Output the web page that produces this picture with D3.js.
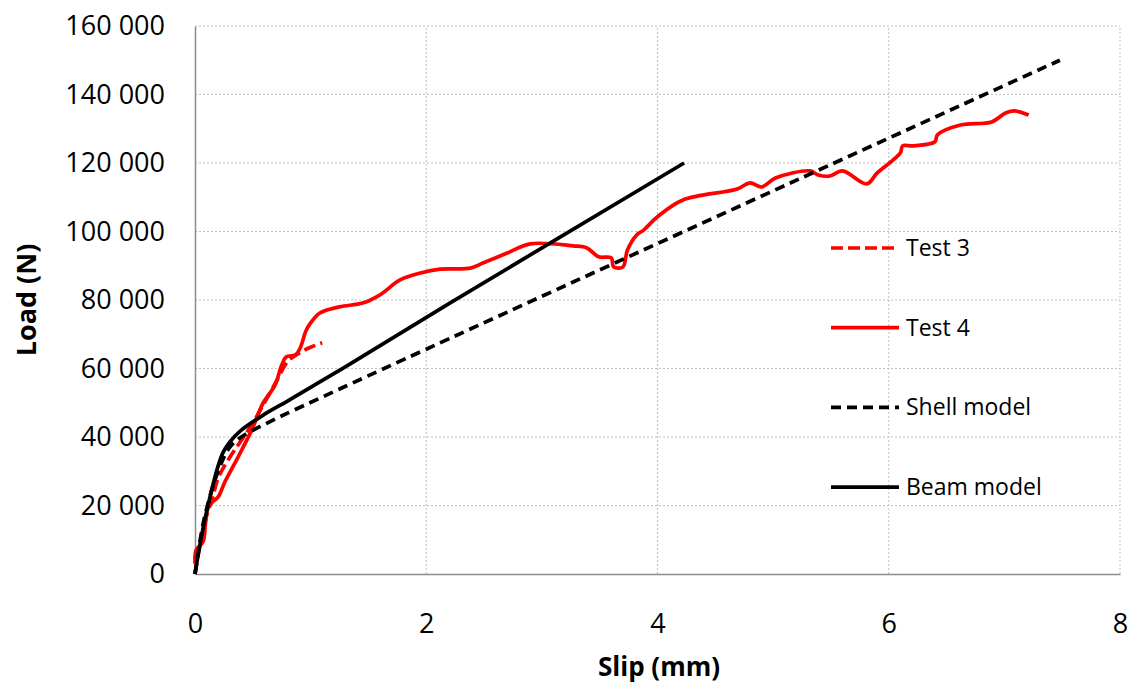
<!DOCTYPE html>
<html>
<head>
<meta charset="utf-8">
<title>Load vs slip</title>
<script src="https://d3js.org/d3.v7.min.js"></script>
<style>
  body { margin: 0; background: #fff; }
  text { font-family: "Open Sans", "Liberation Sans", sans-serif; fill: #000; }
</style>
</head>
<body>
<div id="chart"></div>
<script>
// values: slip (mm), load (N)
var test3 = [[0,0],[0.03,6000],[0.07,12000],[0.1,17000],[0.15,22000],[0.2,28000],[0.3,34000],
  [0.4,39000],[0.5,44000],[0.6,50000],[0.7,56000],[0.8,62000],[0.9,64500],[1.0,66200],[1.1,67500]];

var test4 = [[0,3000],[0.01,7000],[0.07,9500],[0.09,14500],[0.11,19000],[0.15,21000],[0.2,22500],
  [0.26,27000],[0.37,34000],[0.49,42000],[0.59,50000],[0.69,55000],[0.75,61000],[0.79,63400],
  [0.87,64000],[0.91,66000],[0.96,71000],[1.0,73300],[1.08,76200],[1.25,78000],[1.45,79100],
  [1.6,81500],[1.77,85800],[1.95,87900],[2.12,89000],[2.38,89300],[2.49,90800],[2.7,93700],
  [2.9,96400],[3.27,95800],[3.39,95200],[3.49,92600],[3.6,92300],[3.62,89700],[3.7,89600],
  [3.74,94600],[3.82,99000],[3.88,100400],[4.0,104300],[4.22,109200],[4.69,112400],[4.8,114200],
  [4.9,113000],[5.02,115600],[5.32,117700],[5.39,116500],[5.49,116200],[5.6,117700],[5.81,113900],
  [5.9,117100],[6.1,122900],[6.12,125000],[6.21,125000],[6.4,126200],[6.42,128200],[6.62,131100],
  [6.89,132000],[7.01,134600],[7.09,135200],[7.21,134000]];

var shell = [[0,0],[0.05,11000],[0.1,19000],[0.2,30000],[0.3,37000],[0.4,40000],[0.62,44000],
  [1.25,54000],[7.48,150000]];

var beam = [[0,0],[0.05,10000],[0.11,19600],[0.19,30400],[0.24,35300],[0.3,38500],[0.4,42000],
  [0.59,46400],[0.8,50500],[1.0,54500],[1.3,60500],[2.2,79000],[4.23,120000]];

var xTicks = [0, 2, 4, 6, 8];
var yTicks = [0, 20000, 40000, 60000, 80000, 100000, 120000, 140000, 160000];

var series = [
  {name: "Test 3", data: test3, color: "#ff0000", dash: "12,5"},
  {name: "Test 4", data: test4, color: "#ff0000", dash: null},
  {name: "Shell model", data: shell, color: "#000", dash: "10,6"},
  {name: "Beam model", data: beam, color: "#000", dash: null}
];

var width = 1133, height = 687;
var margin = {top: 26, right: 13, bottom: 113, left: 195};

var svg = d3.select("#chart").append("svg")
    .attr("width", width)
    .attr("height", height);

var x = d3.scaleLinear().domain([0, 8]).range([margin.left, width - margin.right]);
var y = d3.scaleLinear().domain([0, 160000]).range([height - margin.bottom, margin.top]);

var fmt = function(d) { return d3.format(",")(d).replace(/,/g, " "); };

// grid
svg.append("g").selectAll("line.h")
    .data(yTicks.slice(1))
  .enter().append("line")
    .attr("x1", x(0)).attr("x2", x(8))
    .attr("y1", function(d) { return y(d); })
    .attr("y2", function(d) { return y(d); })
    .style("stroke", "#c0c0c0").style("stroke-dasharray", "2,2");

svg.append("g").selectAll("line.v")
    .data(xTicks.slice(1))
  .enter().append("line")
    .attr("y1", y(0)).attr("y2", y(160000))
    .attr("x1", function(d) { return x(d); })
    .attr("x2", function(d) { return x(d); })
    .style("stroke", "#c0c0c0").style("stroke-dasharray", "2,2");

// axes
var xAxis = svg.append("g")
    .attr("transform", "translate(0," + y(0) + ")")
    .call(d3.axisBottom(x).tickValues(xTicks).tickSize(0).tickPadding(40));
var yAxis = svg.append("g")
    .attr("transform", "translate(" + x(0) + ",0)")
    .call(d3.axisLeft(y).tickValues(yTicks).tickFormat(fmt).tickSize(0).tickPadding(30));

[xAxis, yAxis].forEach(function(a) {
  a.select(".domain").style("stroke", "#8c8c8c").style("stroke-width", 1.5);
  a.selectAll("text").style("font-size", "27px").style("font-family", "'Open Sans', sans-serif");
});

// lines
var line = d3.line()
    .x(function(d) { return x(d[0]); })
    .y(function(d) { return y(d[1]); })
    .curve(d3.curveCatmullRom.alpha(0.5));

svg.append("g").selectAll("path")
    .data(series)
  .enter().append("path")
    .attr("d", function(d) { return line(d.data); })
    .style("fill", "none")
    .style("stroke", function(d) { return d.color; })
    .style("stroke-width", 3.7)
    .style("stroke-dasharray", function(d) { return d.dash; })
    .style("stroke-linejoin", "round");

// legend
var legend = svg.append("g").selectAll("g")
    .data(series)
  .enter().append("g")
    .attr("transform", function(d, i) { return "translate(831," + (248 + i * 79.7) + ")"; });

legend.append("line")
    .attr("x1", 0).attr("x2", 68)
    .style("stroke", function(d) { return d.color; })
    .style("stroke-width", 3.7)
    .style("stroke-dasharray", function(d) { return d.dash; });

legend.append("text")
    .attr("x", 75).attr("dy", "0.35em")
    .style("font-size", "23px")
    .text(function(d) { return d.name; });

// axis titles
svg.append("text")
    .attr("x", 659).attr("y", 676)
    .attr("text-anchor", "middle")
    .style("font-size", "26px").style("font-weight", "bold")
    .text("Slip (mm)");

svg.append("text")
    .attr("transform", "translate(36,300) rotate(-90)")
    .attr("text-anchor", "middle")
    .style("font-size", "27px").style("font-weight", "bold")
    .text("Load (N)");
</script>
</body>
</html>
